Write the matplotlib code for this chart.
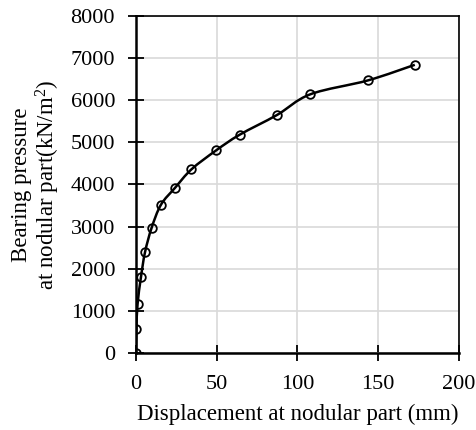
import numpy as np
import matplotlib.pyplot as plt
from matplotlib.path import Path
from matplotlib.patches import PathPatch

plt.rcParams['font.family'] = ['Liberation Serif', 'DejaVu Serif']
plt.rcParams['mathtext.fontset'] = 'custom'
plt.rcParams['mathtext.rm'] = 'Liberation Serif'
plt.rcParams['mathtext.it'] = 'Liberation Serif:italic'

# displacement (mm) vs bearing pressure (kN/m2)
displacement = [0, 0.3, 1.0, 3.1, 5.6, 9.7, 15.5, 24.2, 34.4, 49.7, 64.2, 87.4,
                108, 143.7, 172.7]
pressure = [0, 580, 1160, 1800, 2390, 2970, 3520, 3920, 4360, 4810, 5180, 5650,
            6140, 6470, 6840]

x_ticks = [0, 50, 100, 150, 200]
y_ticks = [0, 1000, 2000, 3000, 4000, 5000, 6000, 7000, 8000]

fig = plt.figure(figsize=(4.77, 4.30), dpi=100)
ax = fig.add_axes([0.285, 0.179, 0.677, 0.784])

# smoothed connecting line (Catmull-Rom style bezier, like a spreadsheet "smooth line")
pts = np.column_stack([displacement, pressure]).astype(float)
ext = np.vstack([pts[0], pts, pts[-1]])
verts = [pts[0]]
codes = [Path.MOVETO]
for i in range(len(pts) - 1):
    p0, p1, p2, p3 = ext[i], ext[i + 1], ext[i + 2], ext[i + 3]
    verts += [p1 + (p2 - p0) / 6, p2 - (p3 - p1) / 6, p2]
    codes += [Path.CURVE4] * 3
ax.add_patch(PathPatch(Path(verts, codes), fill=False, edgecolor='black',
                       lw=1.8, zorder=3))

ax.plot(displacement, pressure, ls='none', marker='o', ms=6.2,
        mfc='none', mec='black', mew=1.3, zorder=4)

ax.set_xlim(0, 200)
ax.set_ylim(0, 8000)
ax.set_xticks(x_ticks)
ax.set_yticks(y_ticks)
ax.grid(True, color='#d9d9d9', lw=1.2)
ax.set_axisbelow(True)

for s in ax.spines.values():
    s.set_linewidth(1.2)
ax.spines['left'].set_linewidth(1.8)
ax.spines['bottom'].set_linewidth(1.8)

ax.tick_params(direction='inout', length=12, width=1.3, labelsize=16)
ax.tick_params(axis='x', pad=10)
ax.tick_params(axis='y', pad=9)
ax.set_xlabel('Displacement at nodular part (mm)', fontsize=16.5, labelpad=7)
ax.set_ylabel('Bearing pressure\nat nodular part(kN/m$^2$)', fontsize=16.5,
              labelpad=6, linespacing=1.1)

fig.savefig('out.png', dpi=100)
